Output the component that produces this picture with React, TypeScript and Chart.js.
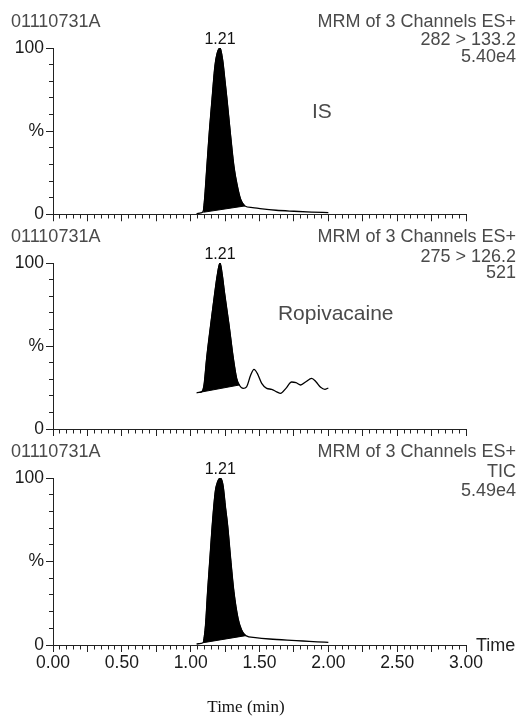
import React, { useEffect, useRef } from 'react';
import { Chart, registerables } from 'chart.js';

Chart.register(...registerables);

const SANS = '"Liberation Sans", Arial, Helvetica, sans-serif';
const SERIF = '"Liberation Serif", "Times New Roman", serif';

// ---------- axis ticks ----------
const X_MIN = 0;
const X_MAX = 3;
const X_TICKS: number[] = Array.from({ length: 61 }, (_, i) => Math.round(i * 5) / 100);
const X_LABEL_VALUES = [0, 0.5, 1, 1.5, 2, 2.5, 3];
const X_LABEL_TEXTS = ['0.00', '0.50', '1.00', '1.50', '2.00', '2.50', '3.00'];
const Y_TICKS = [0, 10, 20, 30, 40, 50, 60, 70, 80, 90, 100];
const Y_LABEL_VALUES = [0, 50, 100];
const Y_LABEL_TEXTS = ['0', '%', '100'];

// ---------- header texts ----------
const SAMPLE_ID = '01110731A';
const CHANNEL_TITLE = 'MRM of 3 Channels ES+';
const PEAK_LABEL = '1.21';

// ---------- panel 1 : IS ----------
const IS_TIME = [1.043, 1.075, 1.092, 1.101, 1.118, 1.135, 1.155, 1.176, 1.193, 1.213, 1.232, 1.251, 1.264, 1.288, 1.314, 1.339, 1.363, 1.394, 1.45, 1.52, 1.62, 1.75, 1.88, 2.0];
const IS_PCT = [0.3, 0.8, 2, 9, 29, 49, 69, 89, 97, 100, 93, 79, 69, 49, 29, 17, 9, 5, 4, 3.2, 2.4, 1.8, 1.3, 1.0];
const IS_BASE_TIME = [1.092, 1.394];
const IS_BASE_PCT = [1.2, 5];

// ---------- panel 2 : Ropivacaine ----------
const RPV_TIME = [1.043, 1.06, 1.082, 1.097, 1.116, 1.145, 1.176, 1.193, 1.213, 1.23, 1.245, 1.279, 1.31, 1.334, 1.353, 1.382, 1.406, 1.436, 1.46, 1.484, 1.516, 1.552, 1.588, 1.625, 1.653, 1.692, 1.733, 1.765, 1.799, 1.837, 1.879, 1.91, 1.944, 1.975, 2.0];
const RPV_PCT = [21.8, 22.0, 22.6, 26.5, 42.5, 62.5, 82.6, 92.6, 100, 92.6, 82.6, 62.5, 42.5, 30.5, 26.5, 24.5, 25.4, 32.5, 35.9, 33.5, 27.5, 24.5, 23.9, 22.4, 21.5, 24.5, 28.3, 27.9, 26.5, 28.5, 30.5, 28.5, 25.1, 23.9, 24.7];
const RPV_BASE_TIME = [1.06, 1.353];
const RPV_BASE_PCT = [22.0, 26.5];

// ---------- panel 3 : TIC ----------
const TIC_TIME = [1.043, 1.075, 1.092, 1.108, 1.123, 1.14, 1.157, 1.179, 1.195, 1.215, 1.235, 1.254, 1.268, 1.29, 1.314, 1.344, 1.37, 1.4, 1.47, 1.573, 1.7, 1.815, 1.92, 2.0];
const TIC_PCT = [0.6, 1.0, 1.6, 12, 32, 52, 72, 92, 97.6, 100, 95.6, 81.7, 72, 52, 32, 16, 9, 5.6, 4.4, 3.6, 2.9, 2.4, 1.9, 1.6];
const TIC_BASE_TIME = [1.092, 1.4];
const TIC_BASE_PCT = [1.4, 5.6];

type Panel = {
  top: number;
  height: number;
  padTop: number;
  xAxisHeight: number;
  showXLabels: boolean;
  time: number[];
  pct: number[];
  baseTime: number[];
  basePct: number[];
  lines: string[];
  lineOffsets: number[];
  compound?: { text: string; t: number; p: number };
};

const PANELS: Panel[] = [
  {
    top: 0, height: 225, padTop: 48, xAxisHeight: 10, showXLabels: false,
    time: IS_TIME, pct: IS_PCT, baseTime: IS_BASE_TIME, basePct: IS_BASE_PCT,
    lines: [CHANNEL_TITLE, '282 > 133.2', '5.40e4'], lineOffsets: [-21, -3, 14],
    compound: { text: 'IS', t: 1.881, p: 58 },
  },
  {
    top: 225, height: 215, padTop: 38, xAxisHeight: 11, showXLabels: false,
    time: RPV_TIME, pct: RPV_PCT, baseTime: RPV_BASE_TIME, basePct: RPV_BASE_PCT,
    lines: [CHANNEL_TITLE, '275 > 126.2', '521'], lineOffsets: [-21, -1, 15],
    compound: { text: 'Ropivacaine', t: 1.634, p: 65.5 },
  },
  {
    top: 440, height: 277, padTop: 38, xAxisHeight: 72, showXLabels: true,
    time: TIC_TIME, pct: TIC_PCT, baseTime: TIC_BASE_TIME, basePct: TIC_BASE_PCT,
    lines: [CHANNEL_TITLE, 'TIC', '5.49e4'], lineOffsets: [-21, -1, 18],
  },
];

function lookupLabel(values: number[], texts: string[], v: number): string {
  for (let i = 0; i < values.length; i++) {
    if (Math.abs(values[i] - v) < 1e-6) return texts[i];
  }
  return '';
}

function makeConfig(p: Panel): any {
  const trace = p.time.map((t, i) => ({ x: t, y: p.pct[i] }));
  const peak = trace.filter((pt) => pt.x >= p.baseTime[0] - 1e-9 && pt.x <= p.baseTime[1] + 1e-9);
  const base = p.baseTime.map((t, i) => ({ x: t, y: p.basePct[i] }));
  let apexIdx = 0;
  p.pct.forEach((v, i) => { if (v > p.pct[apexIdx]) apexIdx = i; });
  const apexT = p.time[apexIdx];

  const textPlugin = {
    id: 'chromText',
    afterDraw(chart: any) {
      const { ctx, chartArea, scales } = chart;
      const xs = scales.x;
      const ys = scales.y;
      ctx.save();
      ctx.textBaseline = 'alphabetic';
      ctx.font = `18px ${SANS}`;
      ctx.fillStyle = '#4a4a4a';
      ctx.textAlign = 'left';
      ctx.fillText(SAMPLE_ID, 11, chartArea.top - 21);
      ctx.textAlign = 'right';
      p.lines.forEach((s, i) => ctx.fillText(s, 516, chartArea.top + p.lineOffsets[i]));
      // peak label
      ctx.fillStyle = '#111';
      ctx.textAlign = 'center';
      ctx.font = `16px ${SANS}`;
      ctx.fillText(PEAK_LABEL, xs.getPixelForValue(apexT), ys.getPixelForValue(100) - 4);
      if (p.compound) {
        ctx.fillStyle = '#4a4a4a';
        ctx.textAlign = 'left';
        ctx.font = `21px ${SANS}`;
        ctx.fillText(p.compound.text, xs.getPixelForValue(p.compound.t), ys.getPixelForValue(p.compound.p));
      }
      if (p.showXLabels) {
        ctx.fillStyle = '#222';
        ctx.textAlign = 'left';
        ctx.font = `18px ${SANS}`;
        ctx.fillText('Time', chartArea.right + 10, chartArea.bottom + 6);
        ctx.fillStyle = '#111';
        ctx.textAlign = 'center';
        ctx.font = `17px ${SERIF}`;
        ctx.fillText('Time (min)', 246, chartArea.bottom + 67);
      }
      ctx.restore();
    },
  };

  return {
    type: 'line',
    data: {
      datasets: [
        {
          label: 'trace', data: trace, borderColor: '#000', borderWidth: 1.3,
          pointRadius: 0, fill: false, cubicInterpolationMode: 'monotone',
        },
        {
          label: 'peak', data: peak, borderColor: '#000', borderWidth: 1,
          backgroundColor: '#000', pointRadius: 0, fill: 2, cubicInterpolationMode: 'monotone',
        },
        {
          label: 'baseline', data: base, borderColor: '#000', borderWidth: 1,
          pointRadius: 0, fill: false,
        },
      ],
    },
    options: {
      animation: false,
      responsive: false,
      maintainAspectRatio: false,
      devicePixelRatio: 1,
      events: [],
      layout: { padding: { top: p.padTop, right: 53, left: 0, bottom: 0 } },
      plugins: { legend: { display: false }, tooltip: { enabled: false }, title: { display: false } },
      scales: {
        x: {
          type: 'linear', position: 'bottom', min: X_MIN, max: X_MAX,
          afterBuildTicks: (s: any) => { s.ticks = X_TICKS.map((v) => ({ value: v })); },
          afterFit: (s: any) => { s.height = p.xAxisHeight; },
          ticks: {
            autoSkip: false, maxRotation: 0, minRotation: 0, padding: 1,
            color: '#1a1a1a', font: { family: SANS, size: 17.5 },
            callback: (v: number) => (p.showXLabels ? lookupLabel(X_LABEL_VALUES, X_LABEL_TEXTS, v) : ''),
          },
          grid: {
            drawOnChartArea: false, drawTicks: true, tickLength: 7, tickColor: '#222', tickWidth: 1,
            tickBorderDash: (c: any) => (Math.round((c.tick ? c.tick.value : 0) * 100) % 25 === 0 ? [] : [3.5, 20]),
          },
          border: { display: true, color: '#222', width: 1 },
        },
        y: {
          type: 'linear', position: 'left', min: 0, max: 100,
          afterBuildTicks: (s: any) => { s.ticks = Y_TICKS.map((v) => ({ value: v })); },
          afterFit: (s: any) => { s.width = 53; },
          ticks: {
            autoSkip: false, padding: 2, color: '#1a1a1a',
            font: { family: SANS, size: 17.5, lineHeight: 1 },
            callback: (v: number) => lookupLabel(Y_LABEL_VALUES, Y_LABEL_TEXTS, v),
          },
          grid: {
            drawOnChartArea: false, drawTicks: true, tickLength: 7, tickColor: '#222', tickWidth: 1,
            tickBorderDash: (c: any) => (Math.round(c.tick ? c.tick.value : 0) % 50 === 0 ? [] : [0, 3, 4, 20]),
          },
          border: { display: true, color: '#222', width: 1 },
        },
      },
    },
    plugins: [textPlugin],
  };
}

function PanelChart({ cfg }: { cfg: Panel }) {
  const ref = useRef<HTMLCanvasElement>(null);
  useEffect(() => {
    if (!ref.current) return;
    const chart = new Chart(ref.current, makeConfig(cfg));
    return () => chart.destroy();
  }, [cfg]);
  return (
    <canvas
      ref={ref}
      width={519}
      height={cfg.height}
      style={{ position: 'absolute', left: 0, top: cfg.top, width: 519, height: cfg.height, display: 'block' }}
    />
  );
}

export default function App() {
  return (
    <div style={{ position: 'absolute', left: 0, top: 0, width: 519, height: 717, background: '#fff', overflow: 'hidden' }}>
      {PANELS.map((p, i) => (
        <PanelChart key={i} cfg={p} />
      ))}
    </div>
  );
}
